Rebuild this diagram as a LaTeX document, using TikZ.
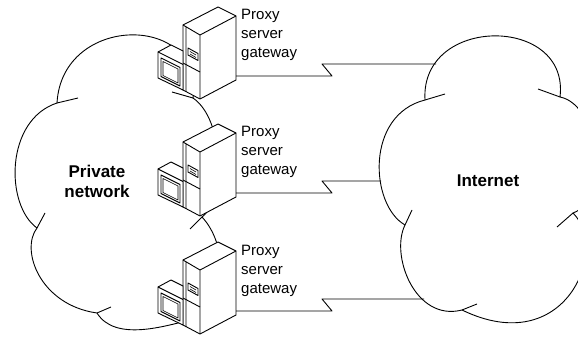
\documentclass[tikz,border=0pt]{standalone}
\usepackage{fontspec}
\setmainfont{Liberation Sans}
\usetikzlibrary{positioning}

\begin{document}
\begin{tikzpicture}[x=1pt, y=-1pt,
    wire/.style={line width=0.9pt, line join=round},
    thinwire/.style={line width=0.6pt, line join=round},
    gwlabel/.style={align=left, inner sep=0pt, anchor=base west, font=\fontsize{15}{19}\selectfont},
    netlabel/.style={align=center, inner sep=0pt, font=\bfseries\fontsize{17}{20}\selectfont}]
    \useasboundingbox (0,0) rectangle (578,339);
    \clip (0,0) rectangle (578,339);

    % private network cloud
    \coordinate (a1) at (57,103);
    \coordinate (a2) at (193,98);
    \coordinate (a3) at (202,217);
    \coordinate (a4) at (190,320);
    \coordinate (a5) at (97,313);
    \coordinate (a6) at (37,228);
    \draw[wire] (a1) .. controls (62,13) and (205,13) .. (a2)
        .. controls (225,120) and (225,200) .. (a3)
        .. controls (228,245) and (228,300) .. (a4)
        .. controls (165,326) and (115,342) .. (a5)
        .. controls (40,305) and (20,250) .. (a6)
        .. controls (5,205) and (5,120) .. cycle;
    \draw[wire] (a1) -- ++(21,-5) (a2) -- ++(-21,-6) (a3) -- ++(-12,12)
        (a5) -- ++(14,-6) (a6) -- ++(8,-15);

    % internet cloud
    \coordinate (b1) at (425,100);
    \coordinate (b2) at (560,97);
    \coordinate (b3) at (573,213);
    \coordinate (b4) at (462,310);
    \coordinate (b5) at (405,225);
    \draw[wire] (b1) .. controls (420,15) and (570,15) .. (b2)
        .. controls (600,105) and (610,200) .. (b3)
        .. controls (610,250) and (565,360) .. (b4)
        .. controls (415,322) and (390,255) .. (b5)
        .. controls (370,205) and (365,115) .. cycle;
    \draw[wire] (b1) -- ++(20,-6) (b2) -- ++(-22,-8) (b3) -- ++(-16,14)
        (b4) -- ++(15,-6) (b5) -- ++(7,-15);

    \node[netlabel, anchor=base] (private) at (97,197) {Private\\network};
    \node[netlabel, anchor=base] (internet) at (488,186) {Internet};

    % the three gateways
    \foreach \i/\dy in {1/0, 2/117, 3/235} {
        \begin{scope}[shift={(0,\dy)}]
            % tower
            \filldraw[wire, fill=white] (183,25) -- (218,7) -- (236,16) -- (236,80)
                -- (200,99) -- (183,90) -- cycle;
            \draw[wire] (183,25) -- (200,35) -- (236,16) (200,35) -- (200,99)
                (186,27) -- (186,92);
            % drive bay
            \draw[wire] (188,48) -- (198,53.5) -- (198,60.5) -- (188,55) -- cycle;
            \draw[thinwire] (190,51.5) -- (196,55) (190,54) -- (196,57.5);
            \draw[wire] (183,63) -- (200,72);
            % monitor
            \filldraw[wire, fill=white] (158,52) -- (171,45) -- (183,51) -- (183,90)
                -- (158,78) -- cycle;
            \draw[wire] (158,52) -- (183,64.5);
            \draw[wire] (161,58) -- (180,67.5) -- (180,86) -- (161,76.5) -- cycle;
            \draw[thinwire] (163,61.5) -- (178,69) -- (178,83) -- (163,75.5) -- cycle;
            % label and link ends
            \node[gwlabel] (gw\i) at (241,58) {Proxy\\server\\gateway};
            \coordinate (p\i) at (236,76);
            \coordinate (k\i) at (332,76);
            \coordinate (q\i) at (322,64);
        \end{scope}
    }

    % links to the internet
    \coordinate (e1) at (436,64);
    \coordinate (e2) at (381,181);
    \coordinate (e3) at (424,299);
    \foreach \i in {1,2,3}
        \draw[wire] (p\i) -- (k\i) -- (q\i) -- (q\i -| e\i);
\end{tikzpicture}
\end{document}
